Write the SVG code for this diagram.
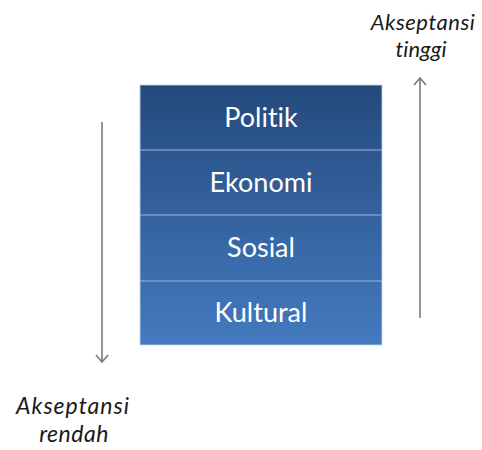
<svg xmlns="http://www.w3.org/2000/svg" width="482" height="450" viewBox="0 0 482 450">
<style>
text{font-variant-ligatures:none}
.lbl{font-family:Lato,"Open Sans",sans-serif;font-size:27px;fill:#ffffff;text-anchor:middle}
.side{font-family:Lato,"Open Sans",sans-serif;font-style:italic;fill:#1a1a1a;text-anchor:middle}
.div{stroke:#9ab6dc;stroke-width:1.2}
.arr{stroke:#7a7a7a;stroke-width:1.6;fill:none}
</style>
<defs>
<linearGradient id="g" x1="0" y1="0" x2="0" y2="1">
<stop offset="0" stop-color="#244a7c"/>
<stop offset="1" stop-color="#447ac0"/>
</linearGradient>
</defs>
<rect x="140" y="85" width="242" height="260" fill="url(#g)" stroke="#c8d6ea" stroke-width="0.8"/>
<g id="politik"><text class="lbl" x="261" y="127">Politik</text></g>
<g id="ekonomi"><text class="lbl" x="261" y="192">Ekonomi</text></g>
<g id="sosial"><text class="lbl" x="261" y="257">Sosial</text></g>
<g id="kultural"><text class="lbl" x="261" y="322">Kultural</text></g>
<g id="dividers">
<line class="div" x1="140" y1="150" x2="382" y2="150"/>
<line class="div" x1="140" y1="215" x2="382" y2="215"/>
<line class="div" x1="140" y1="281" x2="382" y2="281"/>
</g>
<g id="connectors">
<path class="arr" d="M102 122 V362 M96 355 L102 362 L108 355"/>
<path class="arr" d="M420 318 V78 M414 85 L420 78 L426 85"/>
</g>
<g id="label-tinggi"><text class="side" font-size="22" letter-spacing="0.5" x="423" y="30">Akseptansi</text><text class="side" font-size="22" x="421" y="57">tinggi</text></g>
<g id="label-rendah"><text class="side" font-size="23" letter-spacing="1" x="73" y="414">Akseptansi</text><text class="side" font-size="23" letter-spacing="0.5" x="74" y="442">rendah</text></g>
</svg>
